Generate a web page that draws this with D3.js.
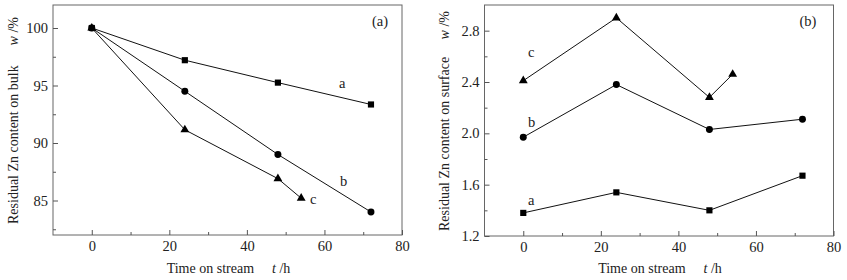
<!DOCTYPE html>
<html>
<head>
<meta charset="utf-8">
<script src="https://cdn.jsdelivr.net/npm/d3@7"></script>
<style>
  body { margin: 0; background: #fff; }
  svg text { font-family: "Liberation Serif", "Times New Roman", serif; }
</style>
</head>
<body>
<svg id="chart" width="847" height="280"></svg>
<script>
// time on stream, h
var timeA = [0, 24, 48, 72];
var timeB = [0, 24, 48, 72];
var timeC = [0, 24, 48, 54];

// panel (a): residual Zn on bulk, %
var bulkA = [100, 97.2, 95.25, 93.35];
var bulkB = [100, 94.5, 89.0, 84.0];
var bulkC = [100, 91.15, 86.9, 85.2];

// panel (b): residual Zn on surface, %
var surfA = [1.38, 1.54, 1.40, 1.67];
var surfB = [1.97, 2.38, 2.03, 2.11];
var surfC = [2.41, 2.90, 2.28, 2.46];

var xTicks = [0, 20, 40, 60, 80];
var bulkTicks = [85, 90, 95, 100];
var surfTicks = [1.2, 1.6, 2.0, 2.4, 2.8];

var svg = d3.select("#chart");

function drawPanel(p) {
    var g = svg.append("g");
    var x = d3.scaleLinear().domain([-10, 80]).range([p.left, p.right]);
    var y = d3.scaleLinear().domain(p.yDomain).range([p.bottom, p.top]);

    // frame
    g.append("rect")
        .attr("x", p.left).attr("y", p.top)
        .attr("width", p.right - p.left).attr("height", p.bottom - p.top)
        .attr("fill", "none").attr("stroke", "#666").attr("stroke-width", 1);

    // axes, ticks pointing inward
    g.append("g").attr("transform", "translate(0," + p.bottom + ")")
        .call(d3.axisBottom(x).tickValues(xTicks).tickSize(-5).tickPadding(6).tickFormat(d3.format("d")));
    g.append("g").attr("transform", "translate(0," + p.bottom + ")")
        .call(d3.axisBottom(x).tickValues([10, 30, 50, 70]).tickSize(-3).tickFormat(""));

    g.append("g").attr("transform", "translate(" + p.left + ",0)")
        .call(d3.axisLeft(y).tickValues(p.yTicks).tickSize(-5).tickPadding(5).tickFormat(p.yFormat));
    g.append("g").attr("transform", "translate(" + p.left + ",0)")
        .call(d3.axisLeft(y).tickValues(p.yMinor).tickSize(-3).tickFormat(""));

    g.selectAll(".domain").remove();
    g.selectAll(".tick line").attr("stroke", "#555");
    g.selectAll(".tick text").attr("font-size", 14.5).attr("fill", "#222");

    var line = d3.line().x(d => x(d[0])).y(d => y(d[1]));

    p.series.forEach(function (s) {
        var pts = s.t.map((t, i) => [t, s.v[i]]);
        g.append("path").datum(pts).attr("d", line)
            .attr("fill", "none").attr("stroke", "#111").attr("stroke-width", 1);
        var sym = d3.symbol().type(s.shape).size(s.size);
        g.selectAll(null).data(pts).enter().append("path")
            .attr("d", sym)
            .attr("transform", d => "translate(" + x(d[0]) + "," + y(d[1]) + ")")
            .attr("fill", "#000");
        g.append("text").attr("x", s.lx).attr("y", s.ly)
            .attr("font-size", 14.5).attr("fill", "#222").text(s.name);
    });

    g.append("text").attr("x", p.tagX).attr("y", p.top + 21)
        .attr("text-anchor", "middle").attr("font-size", 14.5).attr("fill", "#222").text(p.tag);

    // y label: name from the bottom, unit at the top
    g.append("text")
        .attr("transform", "translate(" + p.yLabelX + "," + p.yLabelStart + ") rotate(-90)")
        .attr("text-anchor", "start").attr("font-size", 14).attr("fill", "#222")
        .text(p.yLabel);
    var yu = g.append("text")
        .attr("transform", "translate(" + p.yLabelX + "," + p.yUnitEnd + ") rotate(-90)")
        .attr("text-anchor", "end").attr("font-size", 14).attr("fill", "#222");
    yu.append("tspan").attr("font-style", "italic").text("w");
    yu.append("tspan").text(" /%");

    // x label
    var xl = g.append("text")
        .attr("x", (p.left + p.right) / 2 + 1).attr("y", 273)
        .attr("text-anchor", "middle").attr("font-size", 14).attr("fill", "#222");
    xl.append("tspan").text("Time on stream");
    xl.append("tspan").attr("dx", 18).attr("font-style", "italic").text("t");
    xl.append("tspan").text(" /h");
}

drawPanel({
    left: 53, right: 402, top: 5, bottom: 235,
    yDomain: [82, 102], yTicks: bulkTicks, yMinor: [82.5, 87.5, 92.5, 97.5],
    yFormat: d3.format("d"),
    tag: "(a)", tagX: 380,
    yLabel: "Residual Zn content on bulk",
    yLabelX: 18, yLabelStart: 224, yUnitEnd: 17,
    series: [
        { name: "a", t: timeA, v: bulkA, shape: d3.symbolSquare, size: 38, lx: 339, ly: 88 },
        { name: "b", t: timeB, v: bulkB, shape: d3.symbolCircle, size: 38, lx: 340, ly: 186 },
        { name: "c", t: timeC, v: bulkC, shape: d3.symbolTriangle, size: 34, lx: 310, ly: 204 }
    ]
});

drawPanel({
    left: 484.5, right: 833.5, top: 5, bottom: 236,
    yDomain: [1.2, 3.0], yTicks: surfTicks, yMinor: [1.4, 1.8, 2.2, 2.6],
    yFormat: d3.format(".1f"),
    tag: "(b)", tagX: 808,
    yLabel: "Residual Zn content on surface",
    yLabelX: 449, yLabelStart: 231, yUnitEnd: 11,
    series: [
        { name: "a", t: timeA, v: surfA, shape: d3.symbolSquare, size: 38, lx: 528, ly: 205 },
        { name: "b", t: timeB, v: surfB, shape: d3.symbolCircle, size: 38, lx: 528, ly: 127 },
        { name: "c", t: timeC, v: surfC, shape: d3.symbolTriangle, size: 34, lx: 528, ly: 57 }
    ]
});
</script>
</body>
</html>
